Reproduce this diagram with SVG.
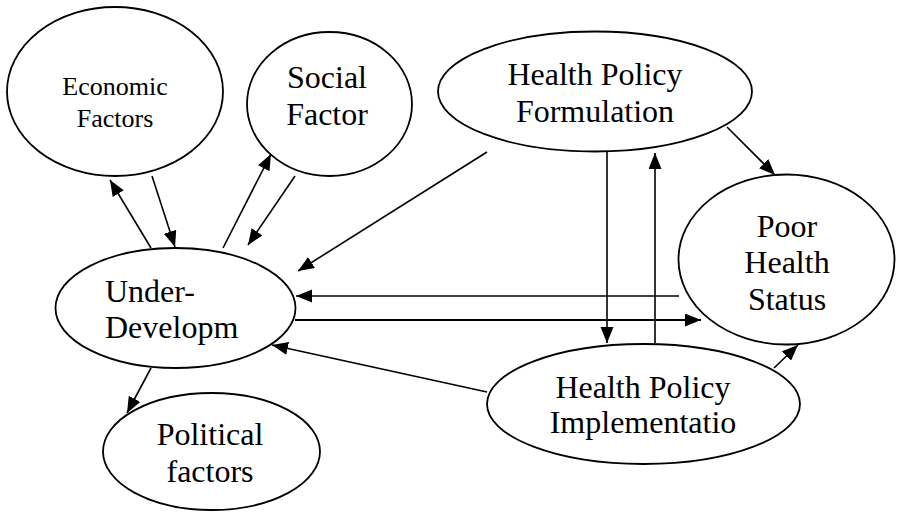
<svg xmlns="http://www.w3.org/2000/svg" width="900" height="512" viewBox="0 0 900 512">
<style>
.node ellipse{fill:#fff;stroke:#000;stroke-width:1.8}
.node text{font-family:"Liberation Serif","Times New Roman",serif;font-size:32px;fill:#000;text-anchor:middle}
#connectors line{stroke:#000;stroke-width:1.6;marker-end:url(#ah)}
</style>
<defs>
<marker id="ah" markerUnits="userSpaceOnUse" markerWidth="18" markerHeight="14" refX="16" refY="6.5" orient="auto">
<path d="M0,0 L16,6.5 L0,13 z" fill="#000"/>
</marker>
</defs>
<rect width="900" height="512" fill="#fff"/>
<g id="n-economic" class="node">
<ellipse cx="115" cy="91.5" rx="108" ry="84.5"/>
<text x="115" y="95" style="font-size:26px">Economic</text>
<text x="115" y="127" style="font-size:26px">Factors</text>
</g>
<g id="n-social" class="node">
<ellipse cx="329.5" cy="104" rx="82.5" ry="72"/>
<text x="327" y="88">Social</text>
<text x="327" y="125">Factor</text>
</g>
<g id="n-formulation" class="node">
<ellipse cx="595" cy="91.5" rx="157" ry="60"/>
<text x="595" y="85">Health Policy</text>
<text x="595" y="122">Formulation</text>
</g>
<g id="n-poor" class="node">
<ellipse cx="786.5" cy="259.5" rx="108" ry="85"/>
<text x="787" y="237">Poor</text>
<text x="787" y="273">Health</text>
<text x="787" y="310">Status</text>
</g>
<g id="n-under" class="node">
<ellipse cx="175.5" cy="308" rx="120" ry="60"/>
<text x="105" y="302" style="text-anchor:start">Under-</text>
<text x="105" y="338" style="text-anchor:start">Developm</text>
</g>
<g id="n-political" class="node">
<ellipse cx="211.5" cy="451.5" rx="108.5" ry="58.5"/>
<text x="210" y="445">Political</text>
<text x="210" y="482">factors</text>
</g>
<g id="n-implementation" class="node">
<ellipse cx="643.5" cy="404" rx="156.5" ry="60"/>
<text x="643" y="398">Health Policy</text>
<text x="643" y="433">Implementatio</text>
</g>
<g id="connectors">
<line x1="151" y1="248" x2="110" y2="180"/>
<line x1="152" y1="176" x2="175" y2="247"/>
<line x1="223" y1="248" x2="271" y2="154"/>
<line x1="295" y1="176" x2="248" y2="245"/>
<line x1="487" y1="152" x2="298" y2="271"/>
<line x1="607" y1="152" x2="607" y2="343"/>
<line x1="655" y1="343" x2="655" y2="153"/>
<line x1="727" y1="127" x2="775" y2="175"/>
<line x1="679" y1="296" x2="296" y2="296"/>
<line x1="295" y1="320" x2="701" y2="320" style="stroke-width:2.2"/>
<line x1="487" y1="392" x2="272" y2="345"/>
<line x1="774" y1="368" x2="798" y2="345"/>
<line x1="151" y1="368" x2="127" y2="413"/>
</g>
</svg>
